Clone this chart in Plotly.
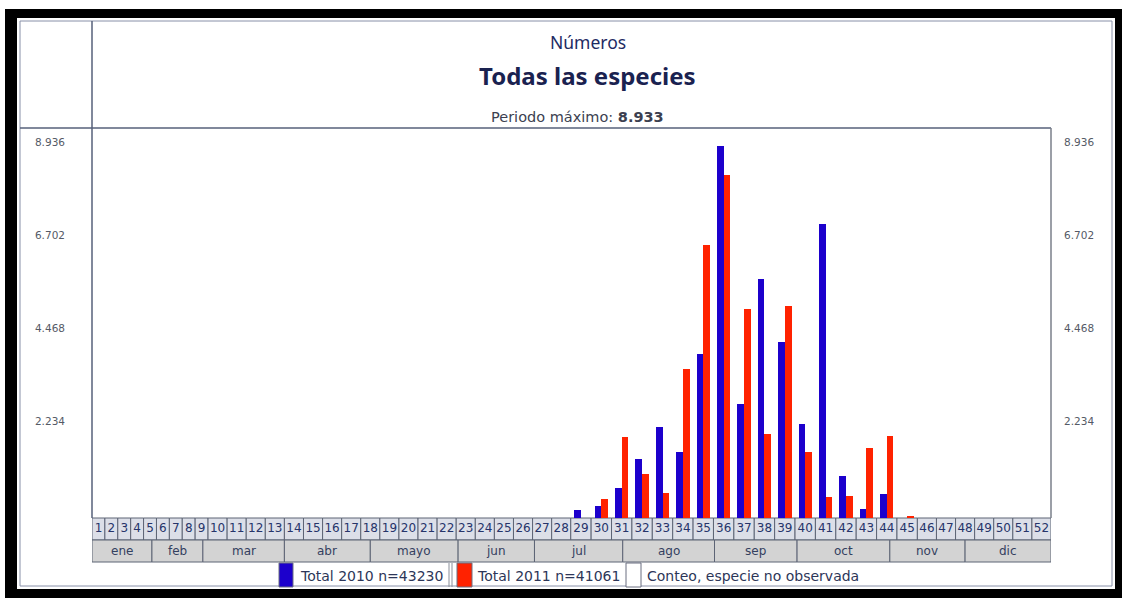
import plotly.graph_objects as go

# ---------------- data ----------------
weeks = list(range(1, 53))
week_labels = [str(w) for w in weeks]

total_2010 = [0, 0, 0, 0, 0, 0, 0, 0, 0, 0, 0, 0, 0, 0, 0, 0, 0, 0, 0, 0,
              0, 0, 0, 0, 0, 0, 0, 0, 185, 288, 720, 1426, 2185, 1585, 3947, 8933,
              2747, 5731, 4226, 2266, 7052, 1001, 226, 569, 0, 0, 0, 0, 0, 0, 0, 0]
total_2011 = [0, 0, 0, 0, 0, 0, 0, 0, 0, 0, 0, 0, 0, 0, 0, 0, 0, 0, 0, 0,
              0, 0, 0, 0, 0, 0, 0, 0, 0, 466, 1945, 1066, 600, 3587, 6564, 8245,
              5011, 2010, 5083, 1585, 504, 528, 1690, 1962, 50, 0, 0, 0, 0, 0, 0, 0]

months = ["ene", "feb", "mar", "abr", "mayo", "jun", "jul", "ago", "sep", "oct", "nov", "dic"]
month_end_week = [4.65, 8.6, 13.0, 17.5, 22.1, 26.1, 30.55, 35.05, 39.1, 43.65, 47.5, 52.0]

y_ticks = [2234, 4468, 6702, 8936]
y_tick_text = ["2.234", "4.468", "6.702", "8.936"]
y_top = 9366

title_1 = "Números"
title_2 = "Todas las especies"
peak_label = "Periodo máximo: "
peak_value = "8.933"
legend_labels = ["Total 2010 n=43230", "Total 2011 n=41061", "Conteo, especie no observada"]

# ---------------- style / layout ----------------
W, H = 1122, 598
L, R, T, B = 92, 1051, 128, 518
BLUE, RED = "#1c00cc", "#ff2200"
FONT = "DejaVu Sans"
TITLE_FONT = "Noto Sans"
FRAME = "#56607a"
BAR_W = 6.7


def px2x(px):
    return (px - L) / (R - L)


def py2y(py):
    return (B - py) / (B - T)


# week column widths follow the label length (wider when a column holds bars)
widths = []
for lbl, a, b in zip(week_labels, total_2010, total_2011):
    w = 6.7 + 6.2 * len(lbl)
    if a > 0 or b > 0:
        w = max(w, 20.4)
    widths.append(w)
edges = [0.0]
for w in widths:
    edges.append(edges[-1] + w)
centers = [(edges[i] + edges[i + 1]) / 2 for i in range(len(widths))]
total_w = edges[-1]


def week_pos(f):
    i = int(f)
    if i >= len(widths):
        return edges[-1]
    return edges[i] + (f - i) * widths[i]


fig = go.Figure()
fig.add_trace(go.Bar(x=centers, y=total_2010, width=BAR_W, offset=-BAR_W,
                     marker=dict(color=BLUE, line=dict(width=0)), name=legend_labels[0],
                     showlegend=False))
fig.add_trace(go.Bar(x=centers, y=total_2011, width=BAR_W, offset=0,
                     marker=dict(color=RED, line=dict(width=0)), name=legend_labels[1],
                     showlegend=False))
fig.add_trace(go.Scatter(x=[centers[0]], y=[0], yaxis="y2", mode="markers",
                         marker=dict(opacity=0), showlegend=False, hoverinfo="skip"))

shapes = []
# outer black frame
for x0, y0, x1, y1 in [(5, 9, 17, 598), (5, 9, 1122, 18), (1115, 9, 1122, 598), (5, 589, 1122, 598)]:
    shapes.append(dict(type="rect", xref="paper", yref="paper", x0=px2x(x0), x1=px2x(x1),
                       y0=py2y(y0), y1=py2y(y1), fillcolor="black", line=dict(width=0)))
# inner thin frame
shapes.append(dict(type="rect", xref="paper", yref="paper", x0=px2x(20), x1=px2x(1112),
                   y0=py2y(21), y1=py2y(586), line=dict(color="#8890a8", width=1)))
# header lines
shapes.append(dict(type="line", xref="paper", yref="paper", x0=px2x(20), x1=px2x(R),
                   y0=py2y(T), y1=py2y(T), line=dict(color=FRAME, width=1.5)))
shapes.append(dict(type="line", xref="paper", yref="paper", x0=px2x(L), x1=px2x(L),
                   y0=py2y(21), y1=py2y(B), line=dict(color=FRAME, width=1.5)))
shapes.append(dict(type="line", xref="paper", yref="paper", x0=px2x(R), x1=px2x(R),
                   y0=py2y(T), y1=py2y(B), line=dict(color="#7a7f8a", width=1.5)))
# week cells
for i in range(len(widths)):
    shapes.append(dict(type="rect", xref="x", yref="paper", x0=edges[i], x1=edges[i + 1],
                       y0=py2y(540), y1=py2y(B), layer="below",
                       fillcolor="#dcdfe8", line=dict(color="#5d6475", width=1)))
# month cells
prev = 0.0
annotations = []
for m, f in zip(months, month_end_week):
    x0, x1 = week_pos(prev), week_pos(f)
    shapes.append(dict(type="rect", xref="x", yref="paper", x0=x0, x1=x1,
                       y0=py2y(562), y1=py2y(540), layer="below",
                       fillcolor="#d3d3d3", line=dict(color="#5d6475", width=1)))
    annotations.append(dict(x=(x0 + x1) / 2, y=py2y(551), xref="x", yref="paper",
                            xanchor="center", yanchor="middle",
                            text=m, showarrow=False, font=dict(family=FONT, size=12, color="#34405f")))
    prev = f

# legend (custom)
for x0, x1, fc in [(279, 293, BLUE), (457, 472, RED), (626, 641, "white")]:
    shapes.append(dict(type="rect", xref="paper", yref="paper", x0=px2x(x0), x1=px2x(x1),
                       y0=py2y(587), y1=py2y(563), fillcolor=fc, line=dict(color="#6a6f80", width=1)))
for xx in (449, 452):
    shapes.append(dict(type="line", xref="paper", yref="paper", x0=px2x(xx), x1=px2x(xx),
                       y0=py2y(587), y1=py2y(563), line=dict(color="#8a8f9a", width=1)))
for xx, txt in zip((298, 475, 645), legend_labels):
    annotations.append(dict(x=px2x(xx), y=py2y(576), xref="paper", yref="paper",
                            xanchor="left", yanchor="middle",
                            text=txt, showarrow=False, font=dict(family=FONT, size=14, color="#2d3658")))

# titles
annotations.append(dict(x=px2x(588), y=py2y(42), xref="paper", yref="paper", text=title_1,
                        xanchor="center", yanchor="middle",
                        showarrow=False, font=dict(family=TITLE_FONT, size=17.5, color="#1e2b63")))
annotations.append(dict(x=px2x(587), y=py2y(75), xref="paper", yref="paper", text="<b>" + title_2 + "</b>",
                        xanchor="center", yanchor="middle",
                        showarrow=False, font=dict(family=TITLE_FONT, size=24, color="#1a2250")))
annotations.append(dict(x=px2x(577), y=py2y(117), xref="paper", yref="paper",
                        text=peak_label + "<b>" + peak_value + "</b>",
                        xanchor="center", yanchor="middle",
                        showarrow=False, font=dict(family=FONT, size=14.5, color="#3c3f50")))

axis_font = dict(family=FONT, size=10.5, color="#555a66")
fig.update_layout(
    width=W, height=H,
    margin=dict(l=L, r=W - R, t=T, b=H - B, pad=0),
    paper_bgcolor="white", plot_bgcolor="white",
    barmode="overlay", bargap=0,
    showlegend=False,
    shapes=shapes, annotations=annotations,
    xaxis=dict(range=[0, total_w], tickvals=centers, ticktext=week_labels, ticks="",
               showgrid=False, zeroline=False, showline=False, ticklabelstandoff=1,
               tickfont=dict(family=FONT, size=12, color="#26346a")),
    yaxis=dict(range=[0, y_top], tickvals=y_ticks, ticktext=y_tick_text, ticks="",
               showgrid=False, zeroline=False, showline=False, ticklabelstandoff=26,
               ticklabelshift=-4, tickfont=axis_font),
    yaxis2=dict(range=[0, y_top], tickvals=y_ticks, ticktext=y_tick_text, ticks="",
                overlaying="y", side="right", showgrid=False, zeroline=False, showline=False,
                ticklabelstandoff=12, ticklabelshift=-4, tickfont=axis_font),
)

fig.write_html("out.html", config={"displayModeBar": False},
               post_script="document.body.style.margin='0';document.body.style.overflow='hidden';")
